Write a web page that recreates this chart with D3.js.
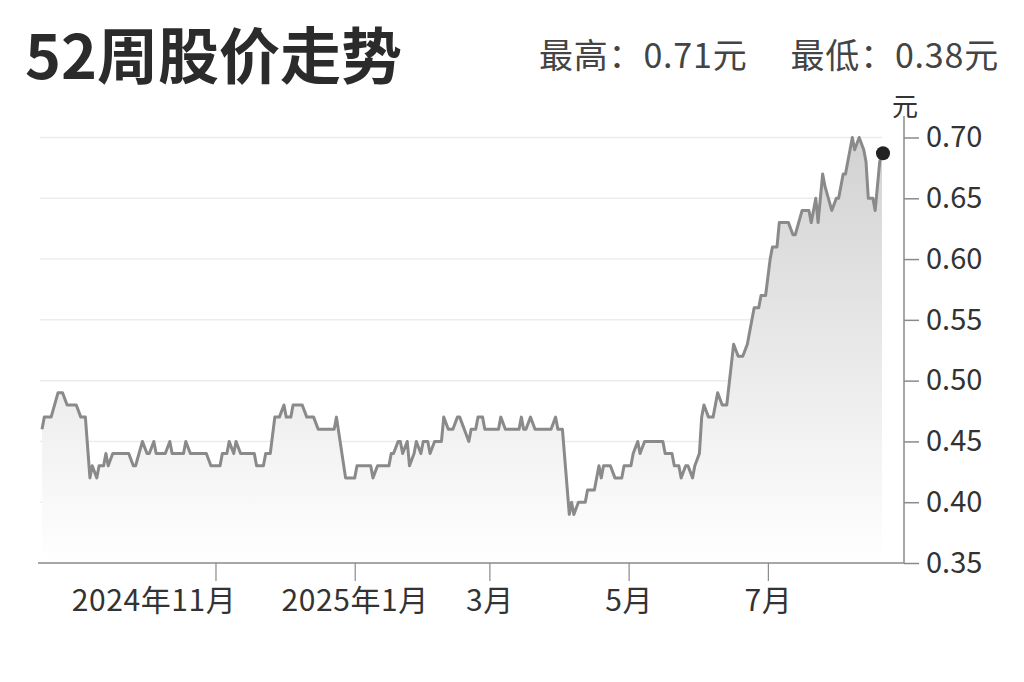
<!DOCTYPE html>
<html>
<head>
<meta charset="utf-8">
<script src="https://cdn.jsdelivr.net/npm/d3@7"></script>
<style>
  html, body { margin: 0; padding: 0; background: #ffffff; }
  svg { display: block; font-family: "Noto Sans CJK SC", "Noto Sans", sans-serif; }
</style>
</head>
<body>
<svg id="chart" width="1024" height="682"></svg>
<script>
// ---------- data ----------
const titleText = "52周股价走势";
const highText = "最高：0.71元";
const lowText = "最低：0.38元";
const unitText = "元";

const dates = [
  "2024-08-17","2024-08-18","2024-08-21","2024-08-24","2024-08-26","2024-08-28","2024-09-01","2024-09-03","2024-09-05","2024-09-07",
  "2024-09-08","2024-09-10","2024-09-11","2024-09-13","2024-09-14","2024-09-15","2024-09-17","2024-09-24","2024-09-26","2024-09-27",
  "2024-09-30","2024-10-02","2024-10-03","2024-10-05","2024-10-06","2024-10-10","2024-10-12","2024-10-13","2024-10-18","2024-10-19",
  "2024-10-21","2024-10-28","2024-10-30","2024-11-03","2024-11-04","2024-11-06","2024-11-07","2024-11-09","2024-11-10","2024-11-12",
  "2024-11-18","2024-11-19","2024-11-22","2024-11-23","2024-11-25","2024-11-27","2024-11-29","2024-12-01","2024-12-02","2024-12-04",
  "2024-12-05","2024-12-09","2024-12-11","2024-12-14","2024-12-16","2024-12-23","2024-12-24","2024-12-28","2025-01-01","2025-01-02",
  "2025-01-08","2025-01-09","2025-01-11","2025-01-16","2025-01-17","2025-01-18","2025-01-20","2025-01-21","2025-01-22","2025-01-24",
  "2025-01-25","2025-01-27","2025-01-28","2025-01-30","2025-01-31","2025-02-02","2025-02-03","2025-02-05","2025-02-08","2025-02-09",
  "2025-02-11","2025-02-13","2025-02-15","2025-02-16","2025-02-20","2025-02-21","2025-02-23","2025-02-24","2025-02-26","2025-02-27",
  "2025-03-05","2025-03-06","2025-03-08","2025-03-14","2025-03-15","2025-03-16","2025-03-17","2025-03-19","2025-03-21","2025-03-28",
  "2025-03-30","2025-03-31","2025-04-02","2025-04-05","2025-04-06","2025-04-07","2025-04-09","2025-04-12","2025-04-13","2025-04-16",
  "2025-04-18","2025-04-19","2025-04-20","2025-04-23","2025-04-25","2025-04-28","2025-04-29","2025-05-02","2025-05-03","2025-05-05",
  "2025-05-06","2025-05-08","2025-05-16","2025-05-17","2025-05-20","2025-05-21","2025-05-23","2025-05-24","2025-05-26","2025-05-27",
  "2025-05-29","2025-05-30","2025-06-01","2025-06-02","2025-06-03","2025-06-05","2025-06-07","2025-06-09","2025-06-11","2025-06-13",
  "2025-06-16","2025-06-18","2025-06-20","2025-06-22","2025-06-23","2025-06-25","2025-06-27","2025-06-28","2025-06-30","2025-07-02",
  "2025-07-03","2025-07-05","2025-07-06","2025-07-10","2025-07-12","2025-07-13","2025-07-16","2025-07-19","2025-07-20","2025-07-22",
  "2025-07-23","2025-07-25","2025-07-26","2025-07-29","2025-07-31","2025-08-01","2025-08-03","2025-08-04","2025-08-07","2025-08-08",
  "2025-08-10","2025-08-12","2025-08-13","2025-08-14","2025-08-16","2025-08-17","2025-08-19","2025-08-20"
];
const prices = [
  0.46,0.47,0.47,0.49,0.49,0.48,0.48,0.47,0.47,0.42,
  0.43,0.42,0.43,0.43,0.44,0.43,0.44,0.44,0.43,0.43,
  0.45,0.44,0.44,0.45,0.44,0.44,0.45,0.44,0.44,0.45,
  0.44,0.44,0.43,0.43,0.44,0.44,0.45,0.44,0.45,0.44,
  0.44,0.43,0.43,0.44,0.44,0.47,0.47,0.48,0.47,0.47,
  0.48,0.48,0.47,0.47,0.46,0.46,0.47,0.42,0.42,0.43,
  0.43,0.42,0.43,0.43,0.44,0.44,0.45,0.45,0.44,0.45,
  0.43,0.44,0.45,0.44,0.45,0.45,0.44,0.45,0.45,0.47,
  0.46,0.46,0.47,0.47,0.45,0.46,0.46,0.47,0.47,0.46,
  0.46,0.47,0.46,0.46,0.47,0.46,0.46,0.47,0.46,0.46,
  0.47,0.46,0.46,0.39,0.40,0.39,0.40,0.40,0.41,0.41,
  0.43,0.42,0.43,0.43,0.42,0.42,0.43,0.43,0.44,0.45,
  0.44,0.45,0.45,0.44,0.44,0.43,0.43,0.42,0.43,0.43,
  0.42,0.43,0.44,0.47,0.48,0.47,0.47,0.49,0.48,0.48,
  0.53,0.52,0.52,0.53,0.54,0.56,0.56,0.57,0.57,0.60,
  0.61,0.61,0.63,0.63,0.62,0.62,0.64,0.64,0.63,0.65,
  0.63,0.67,0.66,0.64,0.65,0.65,0.67,0.67,0.70,0.69,
  0.70,0.69,0.68,0.65,0.65,0.64,0.68,0.687
];

const yTicks = [0.35, 0.40, 0.45, 0.50, 0.55, 0.60, 0.65, 0.70];
const xTickDates = ["2024-11-01", "2025-01-01", "2025-03-01", "2025-05-01", "2025-07-01"];
const xTickLabels = ["2024年11月", "2025年1月", "3月", "5月", "7月"];

// ---------- chart ----------
const parse = d3.timeParse("%Y-%m-%d");
const data = dates.map((d, i) => ({ date: parse(d), value: prices[i] }));

const svg = d3.select("#chart");
const plotLeft = 40, axisX = 904, axisY = 563;

const x = d3.scaleTime().domain(d3.extent(data, d => d.date)).range([42, 882]);
const y = d3.scaleLinear().domain([0.35, 0.70]).range([563, 137.5]);

// gradient
const defs = svg.append("defs");
const grad = defs.append("linearGradient")
  .attr("id", "areaGrad").attr("gradientUnits", "userSpaceOnUse")
  .attr("x1", 0).attr("x2", 0).attr("y1", y(0.70)).attr("y2", y(0.35));
grad.append("stop").attr("offset", "0%").attr("stop-color", "#d2d2d2");
grad.append("stop").attr("offset", "100%").attr("stop-color", "#ffffff");

// title & header
svg.append("text").attr("x", 25).attr("y", 79)
  .attr("font-size", 61).attr("font-weight", 700).attr("fill", "#2b2b2b")
  .text(titleText);
svg.append("text").attr("x", 539).attr("y", 68)
  .attr("font-size", 34).attr("fill", "#444").attr("letter-spacing", 0.8).text(highText);
svg.append("text").attr("x", 999).attr("y", 68).attr("text-anchor", "end")
  .attr("font-size", 34).attr("fill", "#444").attr("letter-spacing", 0.8).text(lowText);

// grid
const lastX = x(data[data.length - 1].date);
svg.append("g").selectAll("line")
  .data(yTicks.filter(t => t > 0.35))
  .join("line")
  .attr("x1", plotLeft).attr("x2", lastX)
  .attr("y1", d => y(d)).attr("y2", d => y(d))
  .attr("stroke", "#ececec").attr("stroke-width", 1.5);

// area
svg.append("path").datum(data)
  .attr("fill", "url(#areaGrad)")
  .attr("d", d3.area().x(d => x(d.date)).y0(y(0.35)).y1(d => y(d.value)));

// line
svg.append("path").datum(data)
  .attr("fill", "none").attr("stroke", "#8a8a8a").attr("stroke-width", 3)
  .attr("stroke-linejoin", "round")
  .attr("d", d3.line().x(d => x(d.date)).y(d => y(d.value)));

// end dot
const last = data[data.length - 1];
svg.append("circle").attr("cx", x(last.date) + 1).attr("cy", y(last.value))
  .attr("r", 7).attr("fill", "#222");

// y axis
svg.append("line").attr("x1", axisX).attr("x2", axisX).attr("y1", 116).attr("y2", axisY)
  .attr("stroke", "#8a8a8a").attr("stroke-width", 1.5);
const yAxis = svg.append("g").attr("transform", `translate(${axisX},0)`)
  .call(d3.axisRight(y).tickValues(yTicks).tickSize(15).tickSizeOuter(0).tickPadding(7)
    .tickFormat(d3.format(".2f")));
yAxis.select(".domain").remove();
yAxis.selectAll(".tick line").attr("stroke", "#8a8a8a").attr("stroke-width", 1.5);
yAxis.selectAll(".tick text").attr("font-size", 29).attr("fill", "#333")
  .attr("font-family", "Noto Sans CJK SC");

svg.append("text").attr("x", axisX + 1).attr("y", 116).attr("text-anchor", "middle")
  .attr("font-size", 26).attr("fill", "#333").text(unitText);

// x axis
svg.append("line").attr("x1", plotLeft - 2).attr("x2", axisX).attr("y1", axisY).attr("y2", axisY)
  .attr("stroke", "#8a8a8a").attr("stroke-width", 1.5);
const xAxis = svg.append("g").attr("transform", `translate(0,${axisY})`)
  .call(d3.axisBottom(x).tickValues(xTickDates.map(parse)).tickSize(18).tickSizeOuter(0).tickPadding(9)
    .tickFormat((d, i) => xTickLabels[i]));
xAxis.select(".domain").remove();
xAxis.selectAll(".tick line").attr("stroke", "#8a8a8a").attr("stroke-width", 1.2);
xAxis.selectAll(".tick text").attr("font-size", 30).attr("fill", "#333")
  .attr("font-family", "Noto Sans CJK SC").attr("letter-spacing", 0.6)
  .attr("dx", (d, i) => i === 0 ? -62 : 0);
</script>
</body>
</html>
